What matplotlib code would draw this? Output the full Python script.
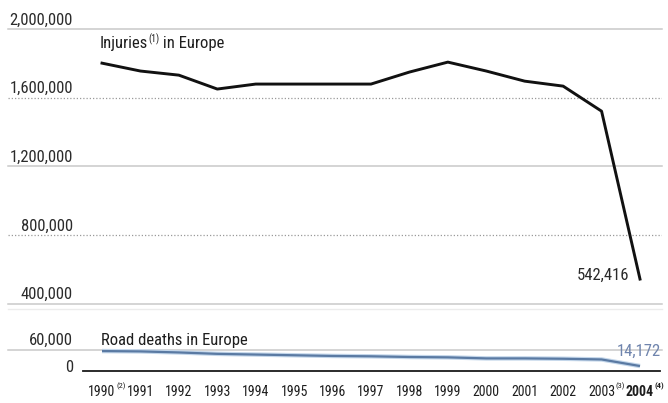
import matplotlib
matplotlib.use("Agg")
import matplotlib.pyplot as plt
from matplotlib import font_manager

# --- data -------------------------------------------------------------
years = [1990, 1991, 1992, 1993, 1994, 1995, 1996, 1997,
         1998, 1999, 2000, 2001, 2002, 2003, 2004]
year_notes = {1990: "(2)", 2003: "(3)", 2004: "(4)"}

injuries = [1801000, 1755000, 1731000, 1650000, 1679000, 1679000, 1679000,
            1679000, 1749000, 1807000, 1755000, 1696000, 1667000, 1521000,
            542416]
road_deaths = [57000, 56000, 53000, 49000, 47000, 45000, 43000, 42000,
               40000, 39000, 36000, 36000, 35000, 33000, 14172]

injury_ticks = [400000, 800000, 1200000, 1600000, 2000000]
injury_dotted = [800000, 1600000]
death_ticks = [0, 60000]

# --- fonts ------------------------------------------------------------
names = {f.name for f in font_manager.fontManager.ttflist}
family = next((n for n in ["Roboto Condensed", "Archivo Narrow", "PT Sans Narrow",
                           "Liberation Sans"] if n in names), "DejaVu Sans")
plt.rcParams["font.family"] = [family, "DejaVu Sans"]

W, H = 668, 403
PT = 0.72  # points per pixel at 100 dpi
fig = plt.figure(figsize=(W / 100, H / 100), dpi=100, facecolor="white")

# pixel layout helpers
x_left_px, x_right_px = 8, 662
x0_px, x1_px = 102, 640          # positions of first / last year
px_per_year = (x1_px - x0_px) / (years[-1] - years[0])
xlim = (years[0] - (x0_px - x_left_px) / px_per_year,
        years[-1] + (x_right_px - x1_px) / px_per_year)


def axes_from_px(top, bottom):
    return fig.add_axes([x_left_px / W, (H - bottom) / H,
                         (x_right_px - x_left_px) / W, (bottom - top) / H])


ax_top = axes_from_px(29, 303.5)
ax_bot = axes_from_px(350, 371)

for ax in (ax_top, ax_bot):
    ax.set_xlim(*xlim)
    ax.set_facecolor("none")
    for s in ax.spines.values():
        s.set_visible(False)
    ax.set_xticks([])
    ax.set_yticks([])

ax_top.set_ylim(injury_ticks[0], injury_ticks[-1])
ax_bot.set_ylim(death_ticks[0], death_ticks[-1])

label_dx = (73 - x_left_px) * PT   # right edge of tick labels, in points
tick_color = "#2b2b2b"
tick_size = 12

# upper panel grid + labels
for v in injury_ticks:
    if v in injury_dotted:
        ax_top.axhline(v, color="#9a9a9a", lw=0.9, ls=(0, (1, 1.6)), zorder=1)
    else:
        ax_top.axhline(v, color="#c9c9c9", lw=1.1, zorder=1, clip_on=False)
    ax_top.annotate(f"{v:,}", xy=(0, v), xycoords=("axes fraction", "data"),
                    xytext=(label_dx, 4.5 * PT), textcoords="offset points",
                    ha="right", va="baseline", fontsize=tick_size, color=tick_color)

# faint separator below the upper panel
fig.add_artist(plt.Line2D([x_left_px / W, x_right_px / W],
                          [(H - 308.5) / H] * 2, color="#ececec", lw=1))

# lower panel grid + labels
ax_bot.axhline(death_ticks[1], color="#c9c9c9", lw=1.1, zorder=1, clip_on=False)
ax_bot.axhline(0, xmin=(83 - x_left_px) / (x_right_px - x_left_px),
               xmax=(660 - x_left_px) / (x_right_px - x_left_px),
               color="#1a1a1a", lw=1.3, zorder=1, clip_on=False)
ax_bot.annotate(f"{death_ticks[1]:,}", xy=(0, death_ticks[1]),
                xycoords=("axes fraction", "data"),
                xytext=(label_dx, 5 * PT), textcoords="offset points",
                ha="right", va="baseline", fontsize=tick_size, color=tick_color)
ax_bot.annotate(f"{death_ticks[0]:,}", xy=(0, death_ticks[0]),
                xycoords=("axes fraction", "data"),
                xytext=(label_dx, 3 * PT), textcoords="offset points",
                ha="right", va="center", fontsize=tick_size, color=tick_color)

# series
ax_top.plot(years, injuries, color="#111111", lw=2.1, solid_joinstyle="round",
            zorder=3, clip_on=False)
ax_bot.plot(years, road_deaths, color="#c3d6ea", lw=3.2, zorder=2, clip_on=False,
            solid_capstyle="butt")
ax_bot.plot(years, road_deaths, color="#5a7aa3", lw=1.6, zorder=3, clip_on=False,
            solid_capstyle="butt")

# series titles; footnote markers are chained onto the preceding word
title_main = ax_top.annotate("Injuries", xy=(years[0], injury_ticks[-1]),
                             xycoords="data", xytext=(-2, -19 * PT),
                             textcoords="offset points", ha="left", va="baseline",
                             fontsize=12, color="#1e1e1e")
title_note = ax_top.annotate("(1)", xy=(1, 1), xycoords=title_main,
                             xytext=(0.6, 1.8), textcoords="offset points",
                             ha="left", va="top", fontsize=7, color="#1e1e1e")
ax_top.annotate(" in Europe", xy=(1, 0), xycoords=(title_note, title_main),
                xytext=(0, 0), textcoords="offset points",
                ha="left", va="bottom", fontsize=12, color="#1e1e1e")
ax_bot.annotate("Road deaths in Europe", xy=(years[0], death_ticks[-1]),
                xycoords="data", xytext=(-1, 5 * PT), textcoords="offset points",
                ha="left", va="baseline", fontsize=12, color="#1e1e1e")

# end-value labels
ax_top.annotate(f"{injuries[-1]:,}", xy=(years[-1], injuries[-1]),
                xytext=(-8, 3), textcoords="offset points",
                ha="right", va="center", fontsize=tick_size, color="#2a2a2a")
ax_bot.annotate(f"{road_deaths[-1]:,}", xy=(years[-1], road_deaths[-1]),
                xytext=(15, 5), textcoords="offset points",
                ha="right", va="bottom", fontsize=tick_size, color="#6f84ad")

# year labels with footnote markers
for y in years:
    weight = "bold" if y == years[-1] else "normal"
    year_text = ax_bot.annotate(str(y), xy=(y, 0), xytext=(0, -20.5 * PT),
                                textcoords="offset points", ha="center",
                                va="center", fontsize=10, fontweight=weight,
                                color="#1e1e1e")
    if y in year_notes:
        ax_bot.annotate(year_notes[y], xy=(1, 1), xycoords=year_text,
                        xytext=(0.4, 1.2), textcoords="offset points",
                        ha="left", va="top", fontsize=6, fontweight=weight,
                        color="#1e1e1e")

fig.savefig("out.png", dpi=100, facecolor="white")
